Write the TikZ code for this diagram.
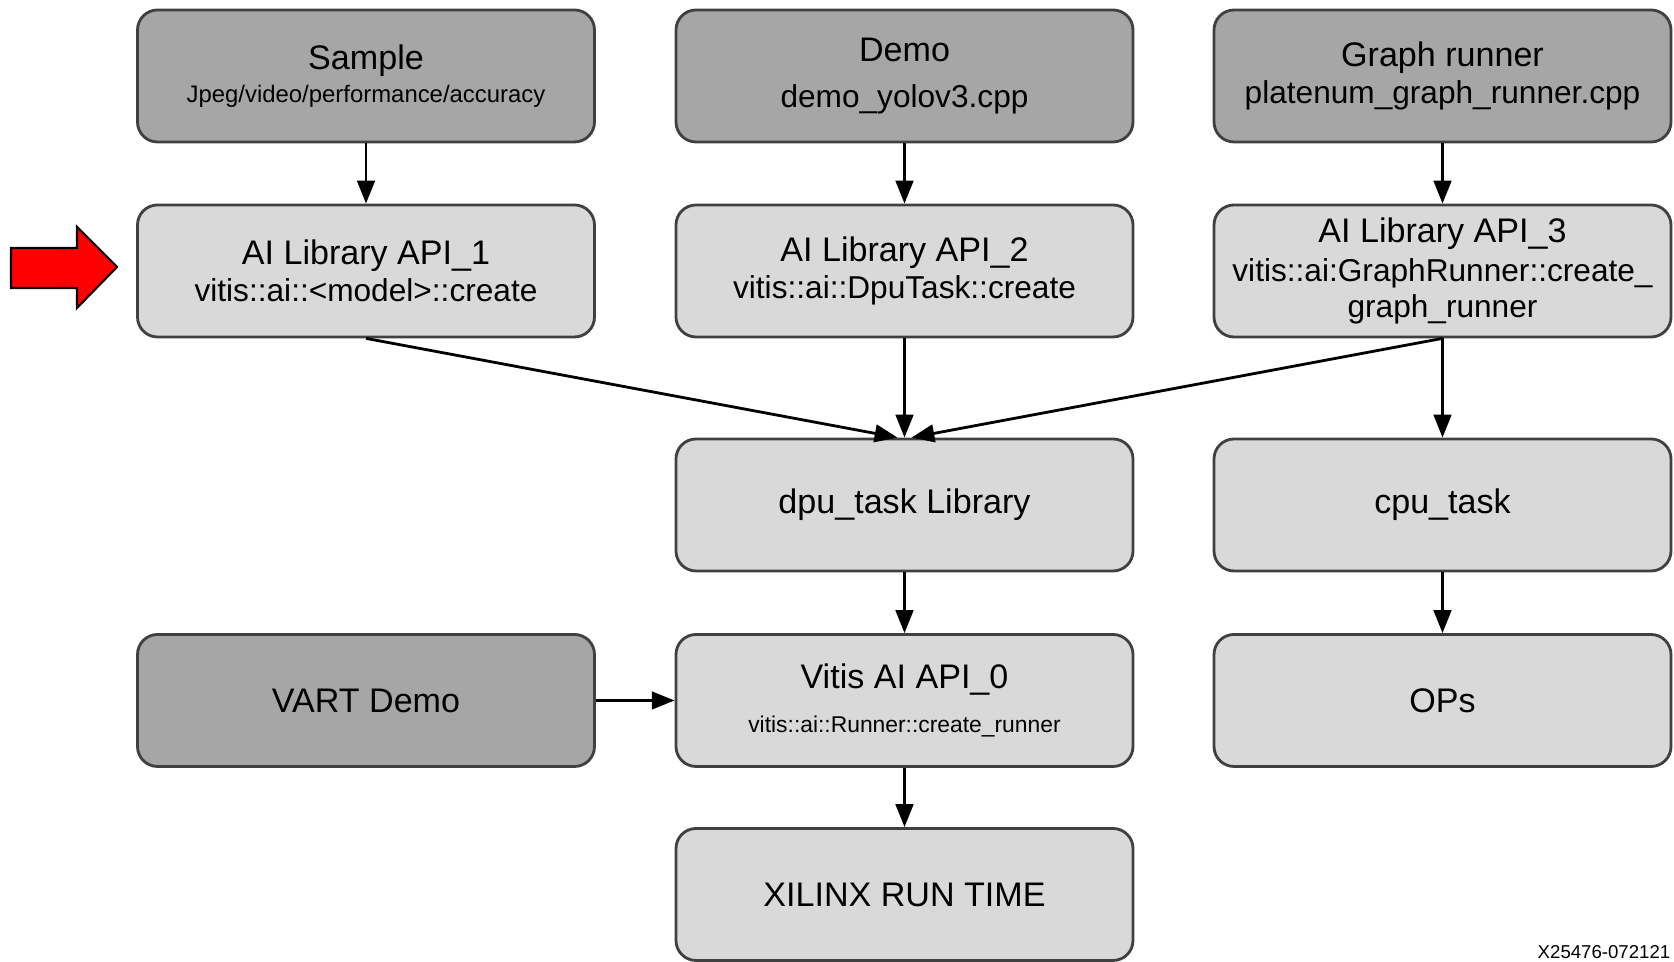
\documentclass[tikz,border=0pt]{standalone}
\usepackage{fontspec}
\setmainfont{Liberation Sans}
\usetikzlibrary{arrows.meta}

\begin{document}
\begin{tikzpicture}[
  darkbox/.style={draw=black!75, line width=0.8pt, rounded corners=0.2cm,
    fill=black!35, minimum width=4.57cm, minimum height=1.32cm,
    align=center, font=\fontsize{9.7}{11.7}\selectfont},
  lightbox/.style={darkbox, fill=black!15},
  link/.style={-{Triangle[length=6.5pt,width=5pt]}, line width=0.8pt}
]

% Parameters
\def\xa{3.66}    % column centres
\def\xb{9.045}
\def\xc{14.425}
\def\ya{8.86}    % row centres
\def\yb{6.91}
\def\yc{4.57}
\def\yd{2.615}
\def\ye{0.675}

\useasboundingbox (0,0) rectangle (16.74,9.62);

% Top row: applications
\node[darkbox] (sample) at (\xa,\ya)
  {Sample\\[-2.4pt]{\fontsize{6.8}{8}\selectfont Jpeg/video/performance/accuracy}};
\node[darkbox] (demo) at (\xb,\ya)
  {Demo\\[1.2pt]{\fontsize{9}{11}\selectfont demo\_yolov3.cpp}};
\node[darkbox] (graph) at (\xc,\ya)
  {Graph runner\\[-1pt]{\fontsize{9}{11}\selectfont platenum\_graph\_runner.cpp}};

% AI Library APIs
\node[lightbox] (api1) at (\xa,\yb)
  {AI Library API\_1\\[-1pt]{\fontsize{9}{11}\selectfont vitis::ai::<model>::create}};
\node[lightbox] (api2) at (\xb,\yb)
  {AI Library API\_2\\[-1pt]{\fontsize{9}{11}\selectfont vitis::ai::DpuTask::create}};
\node[lightbox] (api3) at (\xc,\yb)
  {AI Library API\_3\\[-0.5pt]{\fontsize{9}{11}\selectfont vitis::ai:GraphRunner::create\_}\\[-1.5pt]
   {\fontsize{9}{11}\selectfont graph\_runner}};

% Task libraries
\node[lightbox] (dpu) at (\xb,\yc) {dpu\_task Library};
\node[lightbox] (cpu) at (\xc,\yc) {cpu\_task};

% Runner level
\node[darkbox] (vart) at (\xa,\yd) {VART Demo};
\node[lightbox] (vapi) at (\xb,\yd)
  {Vitis AI API\_0\\[0.6pt]{\fontsize{6.5}{8}\selectfont vitis::ai::Runner::create\_runner}};
\node[lightbox] (ops) at (\xc,\yd) {OPs};

% Runtime
\node[lightbox] (xrt) at (\xb,\ye) {XILINX RUN TIME};

% Arrows
\draw[link] (sample) -- (api1);
\draw[link] (demo) -- (api2);
\draw[link] (graph) -- (api3);
\draw[link] (api1.south) -- ([xshift=-0.07cm]dpu.north);
\draw[link] (api2) -- (dpu);
\draw[link] (api3.south) -- ([xshift=0.07cm]dpu.north);
\draw[link] (api3) -- (cpu);
\draw[link] (dpu) -- (vapi);
\draw[link] (cpu) -- (ops);
\draw[link] (vart) -- (vapi);
\draw[link] (vapi) -- (xrt);

% Red pointer at API_1
\draw[fill=red, line width=0.6pt]
  (0.11,7.14) -- (0.77,7.14) -- (0.77,7.35) -- (1.17,6.95)
  -- (0.77,6.54) -- (0.77,6.74) -- (0.11,6.74) -- cycle;

% Figure id
\node[font=\fontsize{5.3}{6}\selectfont, inner sep=0pt] (figid) at (16.04,0.1) {X25476-072121};

\end{tikzpicture}
\end{document}
